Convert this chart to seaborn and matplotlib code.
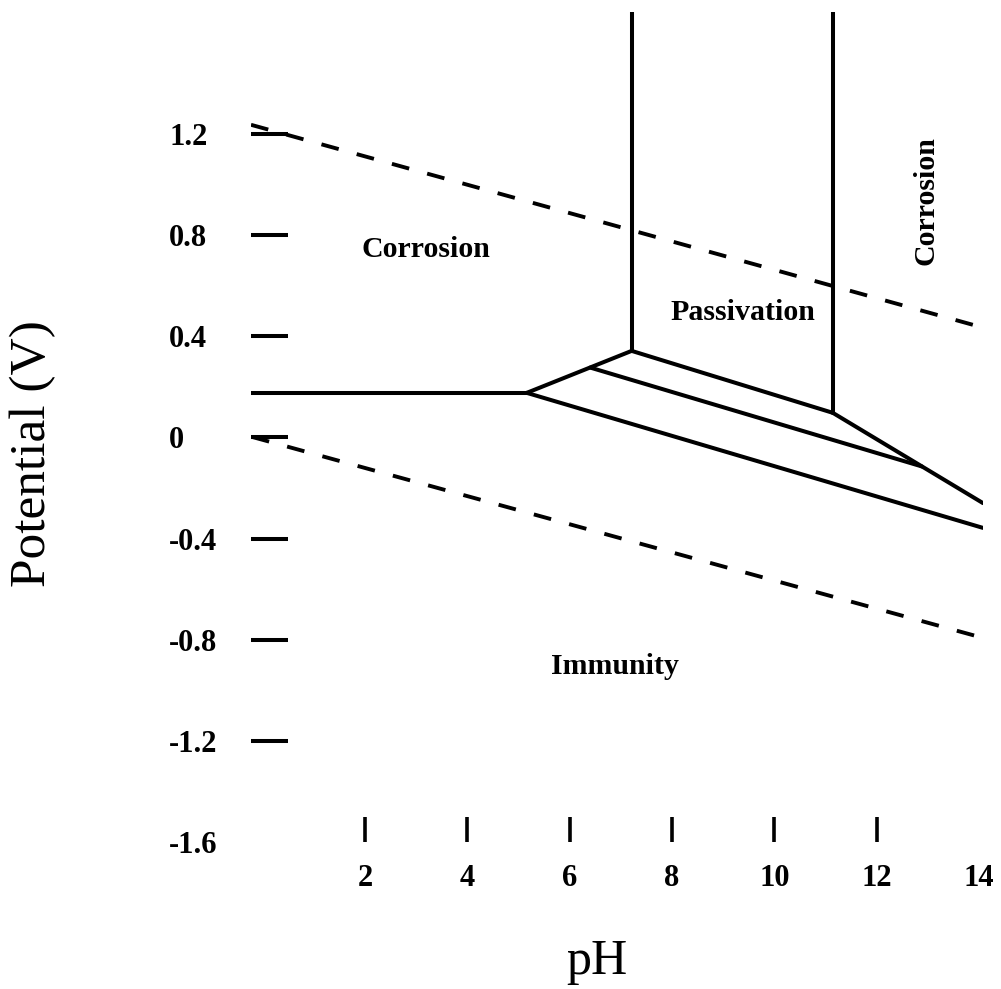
import matplotlib
matplotlib.use("Agg")
import matplotlib.pyplot as plt
import seaborn as sns
import pandas as pd

# ---- data ----
# solid boundary segments: (segment id, pH, potential)
seg_ids = ["h", "h", "a", "a", "v1", "v1", "b", "b", "v2", "v2", "c", "c", "d", "d", "e", "e"]
seg_ph = [-0.227, 5.16, 5.16, 7.21, 7.21, 7.21, 7.21, 11.14, 11.14, 11.14, 11.14, 14.074, 6.40, 12.88, 5.16, 14.074]
seg_v = [0.176, 0.176, 0.176, 0.342, 0.342, 1.682, 0.342, 0.097, 0.097, 1.682, 0.097, -0.26, 0.276, -0.115, 0.176, -0.358]

# water stability lines (dashed)
water_ids = ["o2", "o2", "h2", "h2"]
water_ph = [-0.227, 14.074, -0.21, 14.074]
water_v = [1.236, 0.434, 0.002, -0.793]

region_labels = ["Corrosion", "Passivation", "Immunity", "Corrosion"]
region_ph = [3.19, 9.38, 6.88, 12.96]
region_v = [0.741, 0.492, -0.907, 0.935]
region_rot = [0, 0, 0, 90]

xticks = [2, 4, 6, 8, 10, 12, 14]
xtick_labels = ["2", "4", "6", "8", "10", "12", "14"]
yticks = [-1.6, -1.2, -0.8, -0.4, 0, 0.4, 0.8, 1.2]
ytick_labels = ["-1.6", "-1.2", "-0.8", "-0.4", "0", "0.4", "0.8", "1.2"]

# ---- plot ----
sns.set_style("white")
plt.rcParams["font.family"] = ["Liberation Serif", "DejaVu Serif"]
plt.rcParams["text.color"] = "black"
plt.rcParams["axes.labelcolor"] = "black"
plt.rcParams["xtick.color"] = "black"
plt.rcParams["ytick.color"] = "black"

fig = plt.figure(figsize=(10.01, 9.89), dpi=100)
ax = fig.add_axes([251 / 1001, (989 - 842) / 989, (983 - 251) / 1001, (842 - 12) / 989])

seg_df = pd.DataFrame({"seg": seg_ids, "pH": seg_ph, "V": seg_v})
water_df = pd.DataFrame({"seg": water_ids, "pH": water_ph, "V": water_v})

sns.lineplot(data=seg_df, x="pH", y="V", units="seg", estimator=None, sort=False,
             color="black", linewidth=2.9, ax=ax)
sns.lineplot(data=water_df, x="pH", y="V", units="seg", estimator=None, sort=False,
             color="black", linewidth=2.8, ax=ax, dashes=False)
for ln in ax.get_lines()[-2:]:
    ln.set_linestyle((0, (4.6, 4.8)))
    ln.set_dash_capstyle("butt")

for lab, x, y, r in zip(region_labels, region_ph, region_v, region_rot):
    ax.text(x, y, lab, ha="center", va="center", rotation=r,
            fontsize=21.5, fontweight="bold", color="black")

ax.set_xlim(-0.227, 14.074)
ax.set_ylim(-1.6, 1.682)
for s in ax.spines.values():
    s.set_visible(False)

ax.set_xticks(xticks)
ax.set_xticklabels(xtick_labels, fontsize=22, fontweight="bold")
ax.set_yticks(yticks)
ax.set_yticklabels(ytick_labels, fontsize=22, fontweight="bold", ha="left")

ax.tick_params(axis="y", left=True, direction="in", length=26.6, width=2.9, pad=59, color="black")
ax.tick_params(axis="x", bottom=True, direction="in", length=18, width=2.6, pad=16, color="black")
ax.yaxis.get_major_ticks()[0].tick1line.set_visible(False)
ax.xaxis.get_major_ticks()[-1].tick1line.set_visible(False)

ax.set_xlabel("pH", fontsize=36)
ax.set_ylabel("Potential (V)", fontsize=37)
ax.xaxis.set_label_coords((597 - 251) / 732, (842 - 962) / 830)
ax.yaxis.set_label_coords((33 - 251) / 732, (842 - 454) / 830)
ax.xaxis.label.set_va("center")
ax.yaxis.label.set_va("center")

fig.savefig("out.png", dpi=100)
